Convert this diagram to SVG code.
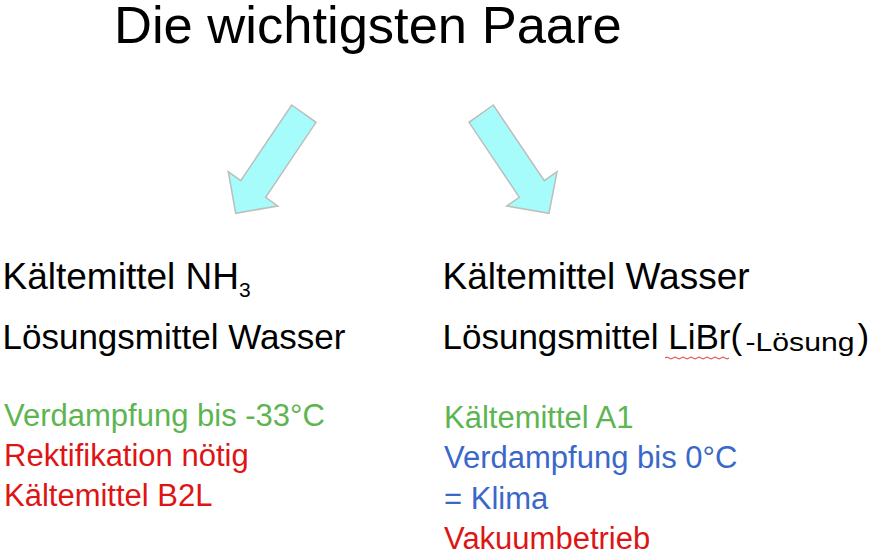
<svg xmlns="http://www.w3.org/2000/svg" width="872" height="555" viewBox="0 0 872 555">
<style>
text{font-family:"Liberation Sans",Arial,sans-serif;fill:#000}
.t{font-size:52.5px}
.k{font-size:37px}
.h{font-size:35px}
.m{font-size:26px}
.s{font-size:31px}
.g{fill:#5db552}
.r{fill:#dd1515}
.b{fill:#3a68c8}
.arr{fill:#a6fbfb;stroke:#bdbdbd;stroke-width:1.5;stroke-linejoin:miter}
</style>
<rect width="872" height="555" fill="#fff"/>
<g id="title"><text class="t" x="114" y="43">Die wichtigsten Paare</text></g>
<g id="connectors">
<polygon class="arr" points="291.7,105 316,122.3 265.7,197.3 277.7,206 235.7,213.3 228.3,171.7 240.7,180.7"/>
<polygon class="arr" points="493.3,105 469,122.3 519.3,197.3 506.7,206 549,213.3 557,171.7 544.3,180.7"/>
</g>
<g id="left">
<text class="k" x="2.5" y="289">Kältemittel NH<tspan font-size="21" dy="8">3</tspan></text>
<text class="h" x="2.5" y="349">Lösungsmittel Wasser</text>
<text class="s g" x="4" y="426">Verdampfung bis -33°C</text>
<text class="s r" x="4" y="466">Rektifikation nötig</text>
<text class="s r" x="4" y="506">Kältemittel B2L</text>
</g>
<g id="right">
<text class="k" x="442.5" y="289">Kältemittel Wasser</text>
<text class="h" x="442.5" y="349">Lösungsmittel LiBr(</text>
<text class="m" x="745.5" y="351" textLength="109" lengthAdjust="spacingAndGlyphs">-Lösung</text>
<text class="h" x="857.5" y="349">)</text>
<path d="M665,358 q2,-2 4,0 t4,0 t4,0 t4,0 t4,0 t4,0 t4,0 t4,0 t4,0 t4,0 t4,0 t4,0 t4,0 t4,0 t4,0 t4,0" fill="none" stroke="#e03030" stroke-width="1"/>
<text class="s g" x="444" y="428">Kältemittel A1</text>
<text class="s b" x="444" y="468">Verdampfung bis 0°C</text>
<text class="s b" x="444" y="509">= Klima</text>
<text class="s r" x="444" y="549">Vakuumbetrieb</text>
</g>
</svg>
